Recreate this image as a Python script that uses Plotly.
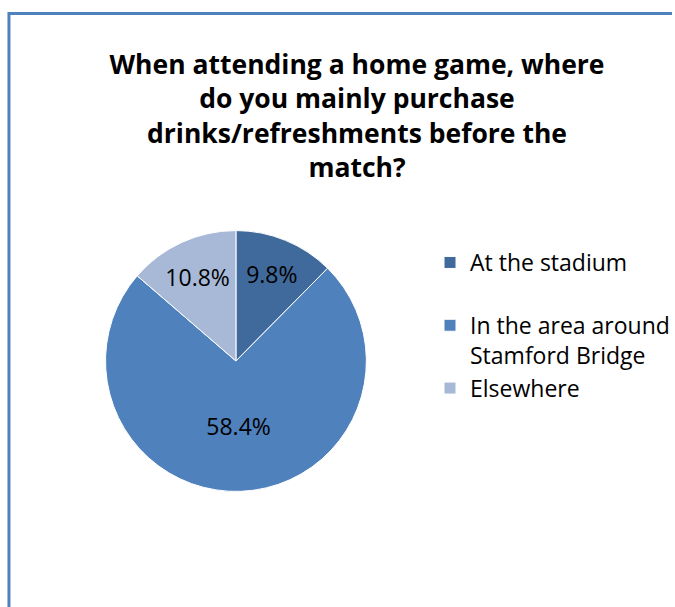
import plotly.graph_objects as go

categories = ["At the stadium<br> ", "In the area around<br>Stamford Bridge", "Elsewhere"]
values = [9.8, 58.4, 10.8]
colors = ["#40699C", "#4F81BD", "#A8B9D8"]
labels_text = [f"{v}%" for v in values]
title_text = ("When attending a home game, where<br>do you mainly purchase<br>"
              "drinks/refreshments before the<br>match?")

W, H = 675, 607
FONT = "Open Sans"

fig = go.Figure(go.Pie(
    labels=categories,
    values=values,
    text=labels_text,
    textinfo="text",
    textposition="inside",
    insidetextorientation="horizontal",
    textfont=dict(family=FONT, size=23, color="black"),
    marker=dict(colors=colors, line=dict(color="white", width=1)),
    sort=False,
    direction="clockwise",
    rotation=0,
    hoverinfo="label+text",
    domain=dict(x=[(237 - 131) / W, (237 + 131) / W],
                y=[1 - 492 / H, 1 - 230 / H]),
))

fig.update_layout(
    width=W, height=H,
    margin=dict(l=0, r=0, t=0, b=0),
    paper_bgcolor="white",
    plot_bgcolor="white",
    font=dict(family=FONT, color="black"),
    title=dict(text=title_text, x=357 / W, xanchor="center",
               y=1 - 74 / H, yanchor="top", yref="container",
               font=dict(family=FONT, size=26.5, color="black", weight="bold")),
    legend=dict(x=432 / W, xanchor="left", y=1 - 241 / H, yanchor="top",
                font=dict(family=FONT, size=23, color="black"),
                valign="top", traceorder="normal",
                bgcolor="rgba(0,0,0,0)"),
    shapes=[
        dict(type="line", xref="paper", yref="paper",
             x0=8 / W, x1=1.0, y0=1 - 13.5 / H, y1=1 - 13.5 / H,
             line=dict(color="#4F81BD", width=3)),
        dict(type="line", xref="paper", yref="paper",
             x0=9 / W, x1=9 / W, y0=0, y1=1 - 12 / H,
             line=dict(color="#4F81BD", width=3)),
    ],
)

fig.write_html("out.html")
